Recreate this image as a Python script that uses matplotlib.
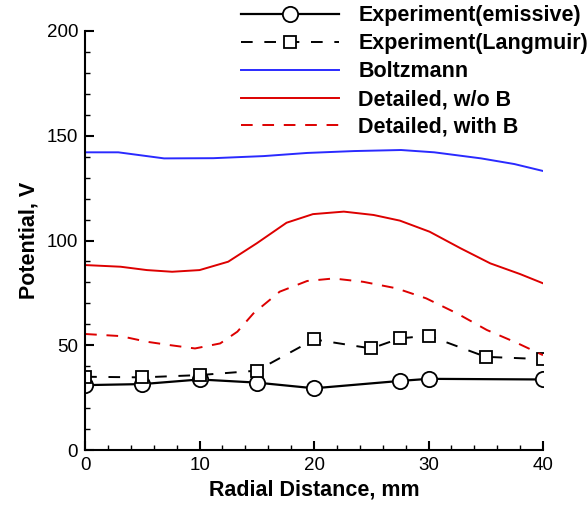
import matplotlib.pyplot as plt
from matplotlib.ticker import MultipleLocator

plt.rcParams['font.family'] = ['Liberation Sans', 'DejaVu Sans']

# measured probe data
x_emissive = [0, 5, 10, 15, 20, 27.5, 30, 40]
v_emissive = [31, 31.5, 33.7, 32.2, 29.5, 33, 34, 33.7]

x_langmuir = [0, 5, 10, 15, 20, 25, 27.5, 30, 35, 40]
v_langmuir = [35, 34.7, 35.8, 37.9, 52.8, 48.5, 53.3, 54.6, 44.5, 43.4]

# model curves
x_boltz = [0, 2.9, 6.9, 11.2, 15.6, 19.4, 23.5, 27.6, 30.5, 34.6, 37.5, 40]
v_boltz = [142.1, 142.1, 139.2, 139.3, 140.3, 141.8, 142.7, 143.2, 142.1, 139.2, 136.5, 133.2]

x_noB = [0, 3.1, 5.4, 7.6, 10, 12.5, 15, 17.6, 19.9, 22.6, 25.2, 27.5, 30.1, 32.8, 35.4, 38, 40]
v_noB = [88.3, 87.5, 85.9, 85.1, 85.9, 89.9, 98.7, 108.5, 112.6, 113.8, 112.2, 109.5, 104.2,
         96.3, 89.1, 84, 79.6]

x_withB = [0, 3.1, 5.4, 7.4, 9.6, 11.8, 13.3, 14.7, 17, 19.4, 21.7, 24.3, 27.2, 29.8, 32.5,
           35.1, 37.7, 40]
v_withB = [55.4, 54.4, 51.7, 50.1, 48.5, 50.9, 56.5, 65.2, 75.6, 80.7, 81.9, 80.3, 77.2, 72.4,
           65.2, 57.3, 51.2, 45.3]

fig = plt.figure(figsize=(5.87, 5.08), dpi=100)
ax = fig.add_axes([0.145, 0.114, 0.78, 0.825])

ax.plot(x_emissive, v_emissive, color='black', lw=1.6, marker='o', ms=11,
        mfc='white', mec='black', mew=1.3, label='Experiment(emissive)')
ax.plot(x_langmuir, v_langmuir, color='black', lw=1.4, ls=(0, (6, 6)), marker='s', ms=8,
        mfc='white', mec='black', mew=1.3, label='Experiment(Langmuir)')
ax.plot(x_boltz, v_boltz, color='#2a2aff', lw=1.4, label='Boltzmann')
ax.plot(x_noB, v_noB, color='#dd0000', lw=1.4, label='Detailed, w/o B')
ax.plot(x_withB, v_withB, color='#dd0000', lw=1.4, ls=(0, (6, 5)), label='Detailed, with B')

ax.set_xlim(0, 40)
ax.set_ylim(0, 200)
ax.xaxis.set_major_locator(MultipleLocator(10))
ax.xaxis.set_minor_locator(MultipleLocator(2))
ax.yaxis.set_major_locator(MultipleLocator(50))
ax.yaxis.set_minor_locator(MultipleLocator(10))

for side in ['top', 'right']:
    ax.spines[side].set_visible(False)
for side in ['left', 'bottom']:
    ax.spines[side].set_linewidth(1.5)

ax.tick_params(which='major', direction='in', length=6.5, width=1.5, labelsize=13.5, pad=5)
ax.tick_params(which='minor', direction='in', length=3.5, width=1)

ax.set_xlabel('Radial Distance, mm', fontsize=15.5, fontweight='bold', labelpad=4)
ax.set_ylabel('Potential, V', fontsize=15.5, fontweight='bold', labelpad=5)

ax.legend(loc='upper right', bbox_to_anchor=(1.011, 1.0), bbox_transform=fig.transFigure,
          frameon=False, prop={'size': 15.5, 'weight': 'bold'}, handlelength=4.55,
          handletextpad=0.9, labelspacing=0.32, borderaxespad=0.05, borderpad=0.2)

fig.savefig('out.png', dpi=100)
